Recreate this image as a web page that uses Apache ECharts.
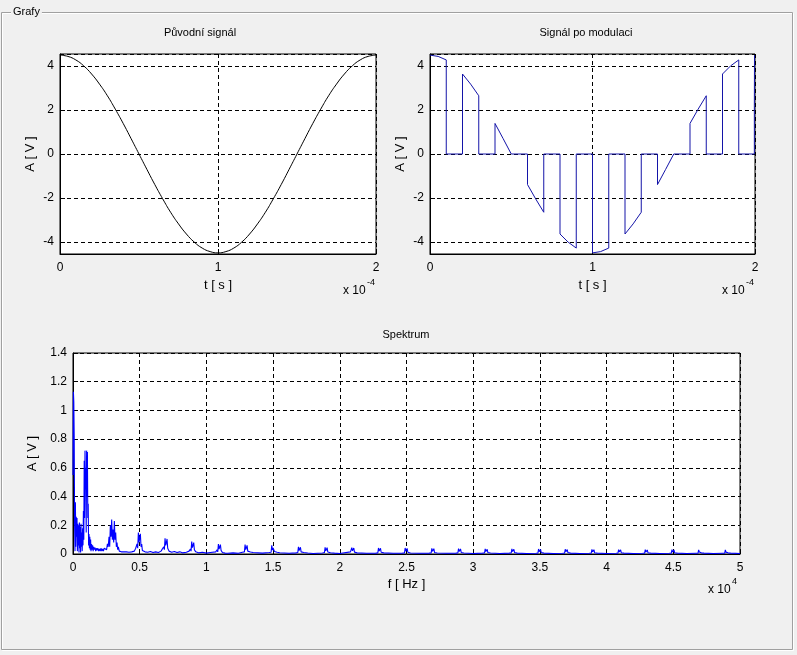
<!DOCTYPE html>
<html>
<head>
<meta charset="utf-8">
<script src="https://cdn.jsdelivr.net/npm/echarts@6/dist/echarts.min.js"></script>
<style>
html,body{margin:0;padding:0;background:#f0f0f0;}
#c{width:797px;height:655px;}
</style>
</head>
<body>
<div id="c"></div>
<script>
// ---- Původní signál (t in units of 1e-4 s) ----
const origT = [0,0.05,0.1,0.15,0.2,0.25,0.3,0.35,0.4,0.45,0.5,0.55,0.6,0.65,0.7,0.75,0.8,0.85,0.9,0.95,1.0,
               1.05,1.1,1.15,1.2,1.25,1.3,1.35,1.4,1.45,1.5,1.55,1.6,1.65,1.7,1.75,1.8,1.85,1.9,1.95,2.0];
const origA = [4.5,4.44,4.28,4.01,3.64,3.18,2.65,2.04,1.39,0.70,0,-0.70,-1.39,-2.04,-2.65,-3.18,-3.64,-4.01,-4.28,-4.44,-4.5,
               -4.44,-4.28,-4.01,-3.64,-3.18,-2.65,-2.04,-1.39,-0.70,0,0.70,1.39,2.04,2.65,3.18,3.64,4.01,4.28,4.44,4.5];

// ---- Signál po modulaci ----
const modT = [0,0.05,0.1,0.1,0.2,0.2,0.25,0.3,0.3,0.4,0.4,0.45,0.5,0.6,0.6,0.65,0.7,0.7,0.8,0.8,0.85,0.9,0.9,1.0,
              1.0,1.05,1.1,1.1,1.2,1.2,1.25,1.3,1.3,1.4,1.4,1.45,1.5,1.6,1.6,1.65,1.7,1.7,1.8,1.8,1.85,1.9,1.9,1.996,1.996,1.997,1.997];
const modA = [4.5,4.44,4.28,0,0,3.64,3.18,2.65,0,0,1.39,0.70,0,0,-1.39,-2.04,-2.65,0,0,-3.64,-4.01,-4.28,0,0,
              -4.5,-4.44,-4.28,0,0,-3.64,-3.18,-2.65,0,0,-1.39,-0.70,0,0,1.39,2.04,2.65,0,0,3.64,4.01,4.28,0,0,2.2,2.2,4.5];

// ---- Spektrum (f in units of 1e4 Hz) ----
const specLow = [
 [0,0.55],[0.003,1.13],[0.006,1.06],[0.009,0.82],[0.012,0.2],[0.015,0.02],[0.018,0.36],[0.021,0.05],[0.024,0.26],
 [0.027,0.12],[0.03,0.25],[0.033,0.02],[0.036,0.21],[0.039,0.06],[0.042,0.2],[0.045,0.01],[0.048,0.22],[0.051,0.04],
 [0.054,0.19],[0.057,0.01],[0.06,0.21],[0.063,0.05],[0.066,0.15],[0.069,0.02],[0.072,0.18],[0.075,0.06],[0.078,0.3],
 [0.081,0.1],[0.084,0.65],[0.087,0.25],[0.09,0.72],[0.093,0.45],[0.096,0.6],[0.099,0.15],[0.102,0.72],[0.105,0.4],
 [0.108,0.71],[0.111,0.25],[0.114,0.35],[0.117,0.06],[0.12,0.14],[0.123,0.04],[0.126,0.12],[0.129,0.03],[0.132,0.1],
 [0.135,0.02],[0.139,0.07],[0.143,0.03],[0.147,0.06],[0.151,0.02],[0.155,0.05],[0.16,0.03],[0.165,0.045],[0.17,0.02],
 [0.175,0.04],[0.18,0.025],[0.186,0.04],[0.192,0.02],[0.198,0.035],[0.204,0.02],[0.21,0.04],[0.216,0.02],[0.222,0.035],
 [0.228,0.02],[0.234,0.04],[0.24,0.03],[0.246,0.05],[0.252,0.03],[0.258,0.07],[0.264,0.05],[0.27,0.12],[0.275,0.05],
 [0.28,0.2],[0.285,0.12],[0.29,0.24],[0.295,0.1],[0.3,0.17],[0.305,0.08],[0.31,0.23],[0.315,0.1],[0.32,0.15],
 [0.325,0.05],[0.33,0.08],[0.335,0.03],[0.34,0.05],[0.347,0.02],[0.354,0.03],[0.362,0.015],[0.37,0.025],[0.38,0.015],
 [0.39,0.02],[0.4,0.015]
];
const specMid = [
 [0.41,0.02],[0.42,0.012],[0.43,0.02],[0.44,0.015],[0.45,0.025],[0.46,0.02],[0.47,0.04],[0.475,0.03],[0.48,0.07],
 [0.485,0.04],[0.49,0.15],[0.495,0.08],[0.5,0.11],[0.505,0.14],[0.51,0.05],[0.515,0.07],[0.52,0.025],[0.53,0.035],
 [0.54,0.015],[0.55,0.025],[0.56,0.012],[0.58,0.018],[0.6,0.01],[0.62,0.015],[0.64,0.01],[0.66,0.02],
 [0.67,0.03],[0.68,0.05],[0.685,0.03],[0.69,0.11],[0.695,0.06],[0.7,0.08],[0.705,0.105],[0.71,0.04],[0.715,0.05],
 [0.72,0.02],[0.73,0.025],[0.74,0.012],[0.76,0.018],[0.78,0.01],[0.8,0.015],[0.82,0.008],[0.85,0.012],[0.87,0.02],
 [0.88,0.035],[0.885,0.02],[0.89,0.086],[0.895,0.045],[0.9,0.06],[0.905,0.08],[0.91,0.03],[0.915,0.04],[0.92,0.015],
 [0.93,0.02],[0.94,0.008],[0.97,0.012],[1.0,0.006],[1.03,0.01],[1.07,0.015],
 [1.08,0.03],[1.085,0.015],[1.09,0.07],[1.095,0.035],[1.1,0.05],[1.105,0.065],[1.11,0.025],[1.115,0.03],[1.12,0.01],
 [1.13,0.015],[1.14,0.006],[1.15,0.012],[1.16,0.005],[1.2,0.008],[1.24,0.005],[1.27,0.012],
 [1.28,0.025],[1.285,0.015],[1.29,0.065],[1.295,0.03],[1.3,0.045],[1.305,0.06],[1.31,0.02],[1.315,0.028],[1.32,0.008],
 [1.33,0.014],[1.34,0.005],[1.35,0.01],[1.36,0.004],[1.42,0.006],[1.47,0.01],
 [1.48,0.022],[1.485,0.012],[1.49,0.06],[1.495,0.028],[1.5,0.042],[1.505,0.055],[1.51,0.018],[1.515,0.025],[1.52,0.007],
 [1.53,0.012],[1.54,0.004],[1.55,0.009],[1.56,0.004],[1.62,0.005],[1.67,0.008],
 [1.68,0.02],[1.685,0.01],[1.69,0.05],[1.695,0.024],[1.7,0.036],[1.705,0.047],[1.71,0.015],[1.715,0.022],[1.72,0.006],
 [1.73,0.01],[1.74,0.004],[1.76,0.007],[1.8,0.004],[1.87,0.007],
 [1.88,0.018],[1.885,0.01],[1.89,0.047],[1.895,0.022],[1.9,0.034],[1.905,0.044],[1.91,0.014],[1.915,0.02],[1.92,0.005],
 [1.93,0.009],[1.94,0.004],[1.96,0.006],[2.0,0.004]
];
const specHigh = [
 [2.08,0.015],[2.085,0.009],[2.09,0.045],[2.095,0.022],[2.1,0.032],[2.105,0.042],[2.11,0.013],[2.115,0.018],[2.12,0.005],[2.13,0.008],[2.14,0.004],[2.2,0.005],[2.27,0.006],
 [2.28,0.014],[2.285,0.008],[2.29,0.042],[2.295,0.02],[2.3,0.03],[2.305,0.04],[2.31,0.012],[2.315,0.017],[2.32,0.005],[2.33,0.008],[2.34,0.004],[2.4,0.005],[2.47,0.006],
 [2.48,0.013],[2.485,0.008],[2.49,0.042],[2.495,0.02],[2.5,0.03],[2.505,0.039],[2.51,0.012],[2.515,0.016],[2.52,0.005],[2.53,0.007],[2.54,0.004],[2.6,0.005],[2.67,0.006],
 [2.68,0.013],[2.685,0.008],[2.69,0.04],[2.695,0.019],[2.7,0.028],[2.705,0.037],[2.71,0.011],[2.715,0.015],[2.72,0.005],[2.73,0.007],[2.74,0.004],[2.8,0.005],[2.87,0.006],
 [2.88,0.012],[2.885,0.007],[2.89,0.038],[2.895,0.018],[2.9,0.027],[2.905,0.035],[2.91,0.011],[2.915,0.014],[2.92,0.005],[2.93,0.007],[2.94,0.004],[3.0,0.004],[3.07,0.006],
 [3.08,0.012],[3.085,0.007],[3.09,0.036],[3.095,0.017],[3.1,0.026],[3.105,0.033],[3.11,0.01],[3.115,0.014],[3.12,0.004],[3.13,0.007],[3.14,0.004],[3.2,0.004],[3.27,0.006],
 [3.28,0.011],[3.285,0.007],[3.29,0.036],[3.295,0.017],[3.3,0.025],[3.305,0.033],[3.31,0.01],[3.315,0.013],[3.32,0.004],[3.33,0.006],[3.34,0.004],[3.4,0.004],[3.47,0.005],
 [3.48,0.011],[3.485,0.006],[3.49,0.035],[3.495,0.016],[3.5,0.025],[3.505,0.032],[3.51,0.01],[3.515,0.013],[3.52,0.004],[3.53,0.006],[3.54,0.004],[3.6,0.004],[3.67,0.005],
 [3.68,0.011],[3.685,0.006],[3.69,0.033],[3.695,0.016],[3.7,0.024],[3.705,0.031],[3.71,0.01],[3.715,0.012],[3.72,0.004],[3.73,0.006],[3.74,0.004],[3.8,0.004],[3.87,0.005],
 [3.88,0.01],[3.885,0.006],[3.89,0.032],[3.895,0.015],[3.9,0.023],[3.905,0.03],[3.91,0.009],[3.915,0.012],[3.92,0.004],[3.93,0.006],[3.94,0.004],[4.0,0.004],[4.07,0.005],
 [4.08,0.01],[4.085,0.006],[4.09,0.031],[4.095,0.015],[4.1,0.022],[4.105,0.029],[4.11,0.009],[4.115,0.012],[4.12,0.004],[4.13,0.006],[4.14,0.004],[4.2,0.004],[4.27,0.005],
 [4.28,0.01],[4.285,0.006],[4.29,0.03],[4.295,0.014],[4.3,0.022],[4.305,0.028],[4.31,0.009],[4.315,0.011],[4.32,0.004],[4.33,0.006],[4.34,0.004],[4.4,0.004],[4.47,0.005],
 [4.48,0.01],[4.485,0.006],[4.49,0.03],[4.495,0.014],[4.5,0.021],[4.505,0.028],[4.51,0.009],[4.515,0.011],[4.52,0.004],[4.53,0.006],[4.54,0.004],[4.6,0.004],[4.67,0.005],
 [4.68,0.009],[4.685,0.005],[4.69,0.029],[4.695,0.014],[4.7,0.021],[4.705,0.027],[4.71,0.008],[4.715,0.011],[4.72,0.004],[4.73,0.006],[4.74,0.004],[4.8,0.004],[4.87,0.005],
 [4.88,0.009],[4.885,0.005],[4.89,0.028],[4.895,0.013],[4.9,0.02],[4.905,0.026],[4.91,0.008],[4.915,0.01],[4.92,0.004],[4.93,0.006],[4.94,0.004],[5.0,0.004]
];

const FONT = '"Liberation Sans", Arial, sans-serif';
const chart = echarts.init(document.getElementById('c'), null, {renderer: 'canvas'});

function gridStyle(o){ return Object.assign({show:true, backgroundColor:'#ffffff', borderColor:'#000', borderWidth:1}, o); }
function axisBase(extra){
  return Object.assign({
    type:'value',
    axisLine:{show:true, onZero:false, lineStyle:{color:'#000', width:1}},
    axisTick:{show:true, inside:true, length:5, lineStyle:{color:'#000'}},
    axisLabel:{color:'#000', fontSize:12, fontFamily:FONT},
    splitLine:{show:true, lineStyle:{color:'#000', width:1, type:[4,3]}},
    nameLocation:'middle',
    nameTextStyle:{color:'#000', fontSize:13, fontFamily:FONT}
  }, extra);
}
const intOnly = v => (Math.abs(v - Math.round(v)) < 1e-9 ? String(Math.round(v)) : '');

const option = {
  animation:false,
  backgroundColor:'#f0f0f0',
  grid:[
    gridStyle({left:60, top:54, width:316, height:200}),
    gridStyle({left:430, top:54, width:325, height:200}),
    gridStyle({left:73, top:353, width:667, height:201})
  ],
  xAxis:[
    axisBase({gridIndex:0, min:0, max:2, interval:1, name:'t [ s ]', nameGap:25, axisLabel:{color:'#000', fontSize:12, fontFamily:FONT, margin:8}}),
    axisBase({gridIndex:1, min:0, max:2, interval:1, name:'t [ s ]', nameGap:25, axisLabel:{color:'#000', fontSize:12, fontFamily:FONT, margin:8}}),
    axisBase({gridIndex:2, min:0, max:5, interval:0.5, name:'f [ Hz ]', nameGap:24, axisLabel:{color:'#000', fontSize:12, fontFamily:FONT, margin:8}})
  ],
  yAxis:[
    axisBase({gridIndex:0, min:-4.55, max:4.55, splitNumber:5, name:'A [ V ]', nameGap:23,
      axisLabel:{color:'#000', fontSize:12, fontFamily:FONT, margin:6, formatter:intOnly, showMinLabel:false, showMaxLabel:false}}),
    axisBase({gridIndex:1, min:-4.55, max:4.55, splitNumber:5, name:'A [ V ]', nameGap:23,
      axisLabel:{color:'#000', fontSize:12, fontFamily:FONT, margin:6, formatter:intOnly, showMinLabel:false, showMaxLabel:false}}),
    axisBase({gridIndex:2, min:0, max:1.4, interval:0.2, name:'A [ V ]', nameGap:29,
      axisLabel:{color:'#000', fontSize:12, fontFamily:FONT, margin:6}})
  ],
  series:[
    {type:'line', xAxisIndex:0, yAxisIndex:0, showSymbol:false, smooth:true,
     data: origT.map((t,i)=>[t, origA[i]]), lineStyle:{color:'#000', width:1}},
    {type:'line', xAxisIndex:1, yAxisIndex:1, showSymbol:false,
     data: modT.map((t,i)=>[t, modA[i]]), lineStyle:{color:'#1414a8', width:1}},
    {type:'line', xAxisIndex:2, yAxisIndex:2, showSymbol:false,
     data: specLow.concat(specMid, specHigh), lineStyle:{color:'#0000ff', width:1.1}}
  ],
  graphic:[
    {type:'rect', silent:true, z:-10, shape:{x:2.5, y:13.5, width:791, height:637}, style:{fill:'none', stroke:'#ffffff', lineWidth:1}},
    {type:'rect', silent:true, z:-9, shape:{x:1.5, y:12.5, width:791, height:637}, style:{fill:'none', stroke:'#a0a0a0', lineWidth:1}},
    {type:'text', x:11, y:12, z:10, style:{text:'Grafy', font:'11px '+FONT, fill:'#000', verticalAlign:'middle', backgroundColor:'#f0f0f0', padding:[0,2]}},
    {type:'text', x:200, y:33, style:{text:'Původní signál', font:'11px '+FONT, fill:'#000', align:'center', verticalAlign:'middle'}},
    {type:'text', x:586, y:33, style:{text:'Signál po modulaci', font:'11px '+FONT, fill:'#000', align:'center', verticalAlign:'middle'}},
    {type:'text', x:406, y:335, style:{text:'Spektrum', font:'11px '+FONT, fill:'#000', align:'center', verticalAlign:'middle'}},
    {type:'text', x:343, y:291, style:{text:'x 10', font:'12px '+FONT, fill:'#000', verticalAlign:'middle'}},
    {type:'text', x:367, y:283, style:{text:'-4', font:'9px '+FONT, fill:'#000', verticalAlign:'middle'}},
    {type:'text', x:722, y:291, style:{text:'x 10', font:'12px '+FONT, fill:'#000', verticalAlign:'middle'}},
    {type:'text', x:746, y:283, style:{text:'-4', font:'9px '+FONT, fill:'#000', verticalAlign:'middle'}},
    {type:'text', x:708, y:590, style:{text:'x 10', font:'12px '+FONT, fill:'#000', verticalAlign:'middle'}},
    {type:'text', x:732, y:582, style:{text:'4', font:'9px '+FONT, fill:'#000', verticalAlign:'middle'}}
  ]
};
chart.setOption(option);
</script>
</body>
</html>
